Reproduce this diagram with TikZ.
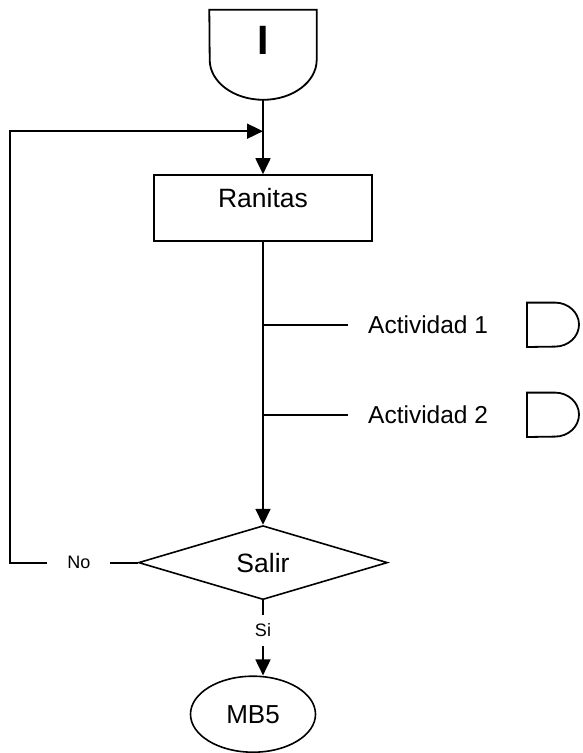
\documentclass[tikz,border=0pt]{standalone}
\usepackage{fontspec}
\setmainfont{Liberation Sans}
\usetikzlibrary{shapes.geometric,arrows.meta,positioning}
\tikzset{
  linea/.style={line width=1.8pt},
  flecha/.style={linea, -{Triangle[length=16pt,width=15pt]}},
  conector/.style={rectangle, minimum width=107pt, minimum height=90pt, inner sep=0pt},
  proceso/.style={rectangle, draw, line width=1.6pt, minimum width=218pt,
    minimum height=66pt, inner sep=0pt},
  decision/.style={diamond, draw, line width=1.6pt, aspect=3, minimum width=249pt,
    minimum height=74pt, inner sep=0pt, font=\fontsize{26.5}{30}\selectfont},
  terminal/.style={ellipse, draw, line width=1.6pt, minimum width=125pt,
    minimum height=76pt, inner sep=0pt, font=\fontsize{26}{30}\selectfont},
  retraso/.style={rectangle, minimum width=52pt, minimum height=44pt, inner sep=0pt},
  activ/.style={font=\fontsize{24.5}{28}\selectfont, inner sep=0pt},
  etiq/.style={font=\fontsize{18}{21}\selectfont, fill=white, inner sep=0pt}
}

\begin{document}
\begin{tikzpicture}[x=1pt,y=-1pt]
\useasboundingbox (0,0) rectangle (583,753);

% conector de entrada
\node[conector] (ini) at (263,55) {};
\draw[linea] (ini.north west) -- (ini.north east) -- ++(0,-50pt)
  arc[start angle=0,end angle=-180,x radius=53.5pt,y radius=40pt] -- cycle;
\node[font=\fontsize{41}{44}\selectfont\bfseries] (letra) at ([yshift=14.5pt]ini.center) {I};

\coordinate[below=31pt of ini] (junta);
\node[proceso, below=74pt of ini,
      label={[font=\fontsize{26.5}{30}\selectfont, yshift=10pt]center:Ranitas}] (ranitas) {};

% actividades
\coordinate[below=83pt of ranitas] (r1);
\coordinate[below=173pt of ranitas] (r2);
\node[activ, right=105pt of r1] (act1) {Actividad 1};
\node[activ, right=105pt of r2] (act2) {Actividad 2};
\node[retraso, right=264pt of r1] (ret1) {};
\node[retraso, right=264pt of r2] (ret2) {};
\foreach \d in {ret1,ret2}
  \draw[linea] (\d.north west) -- ++(28pt,0)
    arc[start angle=90,end angle=-90,x radius=24pt,y radius=22pt] -- (\d.south west) -- cycle;

\node[decision, below=283pt of ranitas] (salir) {Salir};
\node[terminal, below=75pt of salir, xshift=-10pt] (mb5) {MB5};
\coordinate (esquina) at (10,0);

\draw[flecha] (ini.south) -- (ranitas.north);
\draw[linea] (r1) -- ([xshift=-20pt]act1.west);
\draw[linea] (r2) -- ([xshift=-20pt]act2.west);
\draw[flecha] (ranitas.south) -- (salir.north);
\draw[flecha] (salir.south) -- node[etiq, pos=0.4, inner ysep=9pt]{Si} (salir.south |- mb5.north);
\draw[flecha] (salir.west) -- node[etiq, pos=0.46, inner xsep=20pt]{No}
  (salir.west -| esquina) |- (junta);

\end{tikzpicture}
\end{document}
